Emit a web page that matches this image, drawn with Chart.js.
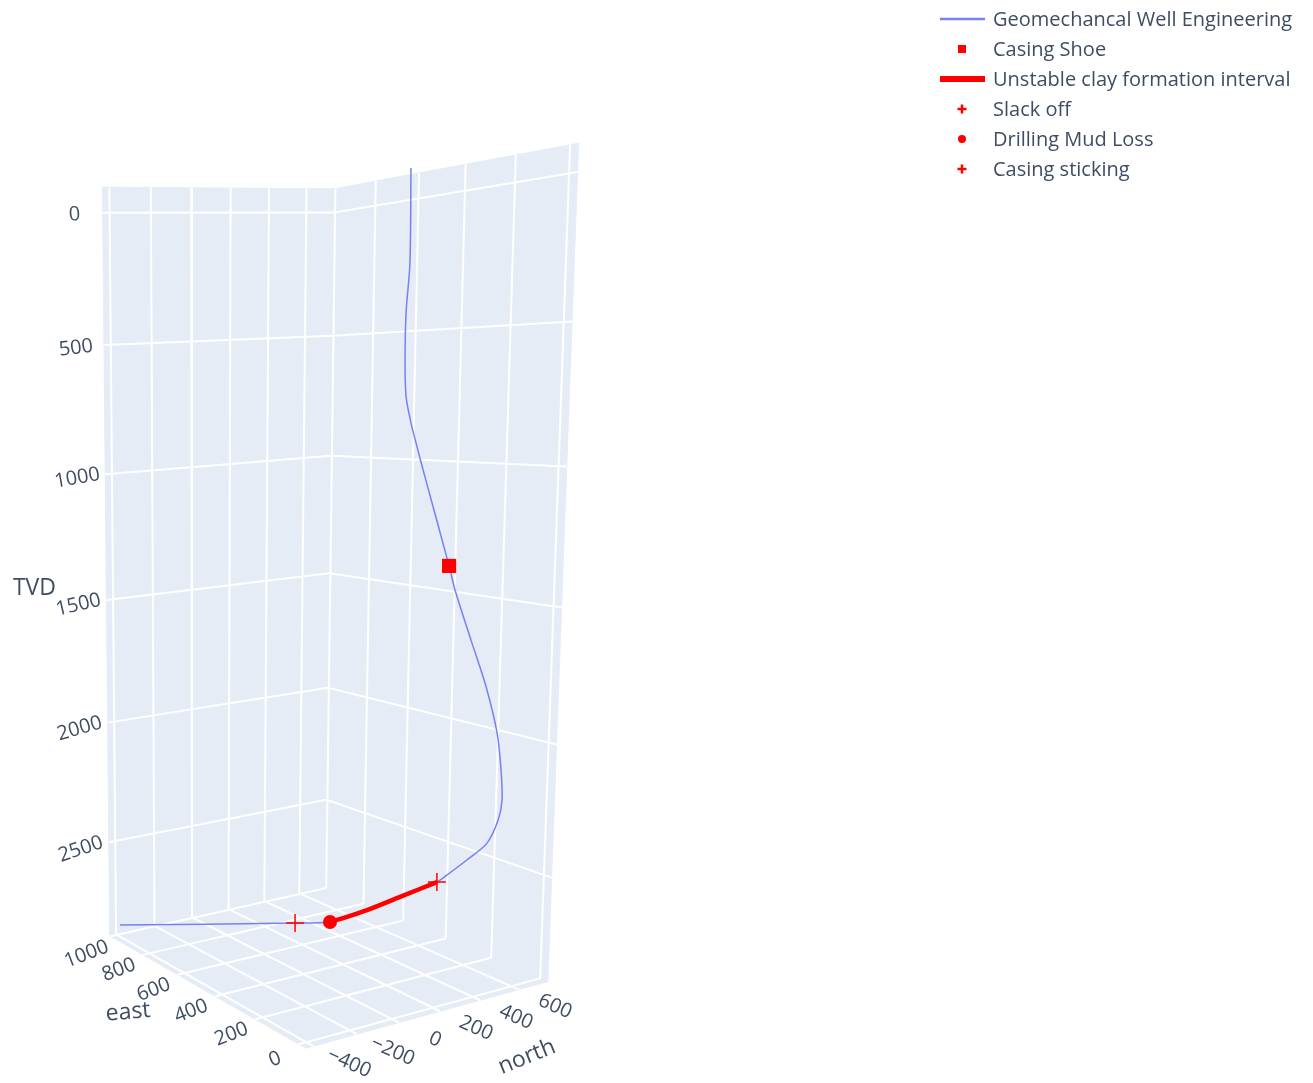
<!DOCTYPE html>
<html><head><meta charset="utf-8">
<script src="https://cdn.jsdelivr.net/npm/chart.js@4.4.1/dist/chart.umd.min.js"></script>
<style>html,body{margin:0;padding:0;background:#fff;}#wrap{width:1313px;height:1083px;position:relative;}</style>
</head><body><div id="wrap"><canvas id="c"></canvas></div>
<script>
// ---- axis ranges and ticks ----
const northRange = [-433, 752];
const eastRange = [-30, 1005];
const tvdRange = [-95, 2900];
const northTicks = [-400, -200, 0, 200, 400, 600];
const eastTicks = [0, 200, 400, 600, 800, 1000];
const tvdTicks = [0, 500, 1000, 1500, 2000, 2500];

// ---- well trajectory (north, east, TVD) ----
const wellNorth = [367, 369, 362, 362, 366, 379, 395, 417, 481, 497, 539, 579, 609, 621, 626, 618, 592, 544, 495, 470, 377, 291, 228, 194, 99, -402];
const wellEast  = [307, 305, 311, 311, 307, 295, 281, 263, 207, 193, 156, 121, 95, 84, 80, 87, 109, 152, 194, 216, 298, 372, 427, 458, 540, 978];
const wellTVD   = [-63, 266, 440, 618, 739, 833, 920, 1030, 1354, 1442, 1626, 1798, 1968, 2106, 2219, 2296, 2387, 2458, 2522, 2553, 2624, 2688, 2729, 2750, 2768, 2849];

// ---- unstable clay formation interval ----
const clayNorth = [470, 377, 291, 228, 194];
const clayEast  = [216, 298, 372, 427, 458];
const clayTVD   = [2553, 2624, 2688, 2729, 2750];

// ---- events [north, east, TVD] ----
const casingShoe = [481, 207, 1354];
const slackOff = [470, 216, 2553];
const mudLoss = [194, 458, 2750];
const casingSticking = [99, 540, 2768];

// ---- camera: box reference points (north, east, TVD) -> screen position ----
const calib = [
  [-433,1005,-95,103,187],[752,1005,-95,335,190],[752,-30,-95,578,144],
  [-433,1005,2900,111,936],[752,1005,2900,327,888],[752,-30,2900,547,980],[-433,-30,2900,305,1050],
  [-433,1005,0,104,212],[-433,1005,2500,112,840],[752,1005,2500,328,798],[752,1005,0,335,210],[752,-30,0,578,168],
  [-200,1005,-95,149,187],[0,1005,-95,190,188],[200,1005,-95,229,188],[400,1005,-95,268,189],[600,1005,-95,305,189],
  [752,800,-95,377,182],[752,400,-95,467,166],[752,200,-95,517,156],[752,0,-95,570,146],
  [-200,1005,2900,155,926],[0,1005,2900,190,918],[200,1005,2900,227,910],[400,1005,2900,263,902],[600,1005,2900,298,894]
];
function norm(n,e,t){return [(n-northRange[0])/(northRange[1]-northRange[0]),(e-eastRange[0])/(eastRange[1]-eastRange[0]),(t-tvdRange[0])/(tvdRange[1]-tvdRange[0])];}
function solveLin(M,n){for(let c=0;c<n;c++){let p=c;for(let r=c+1;r<n;r++)if(Math.abs(M[r][c])>Math.abs(M[p][c]))p=r;const tmp=M[c];M[c]=M[p];M[p]=tmp;for(let r=0;r<n;r++){if(r===c)continue;const f=M[r][c]/M[c][c];for(let k=c;k<=n;k++)M[r][k]-=f*M[c][k];}}return M.map((row,i)=>row[n]/row[i]);}
const P=(function(){const N=11;const M=Array.from({length:N},()=>new Array(N+1).fill(0));
  calib.forEach(c=>{const [X,Y,Z]=norm(c[0],c[1],c[2]);const u=c[3]/1000,v=c[4]/1000;
    const rows=[[X,Y,Z,1,0,0,0,0,-u*X,-u*Y,-u*Z,u],[0,0,0,0,X,Y,Z,1,-v*X,-v*Y,-v*Z,v]];
    rows.forEach(r=>{for(let i=0;i<N;i++){for(let j=0;j<N;j++)M[i][j]+=r[i]*r[j];M[i][N]+=r[i]*r[N];}});});
  return solveLin(M,N);})();
function proj(n,e,t){const [X,Y,Z]=norm(n,e,t);const w=P[8]*X+P[9]*Y+P[10]*Z+1;
  return {x:1000*(P[0]*X+P[1]*Y+P[2]*Z+P[3])/w,y:1000*(P[4]*X+P[5]*Y+P[6]*Z+P[7])/w};}

const RED='#ff0000';
const [n0,n1]=northRange,[e0,e1]=eastRange,[t0,t1]=tvdRange;
const pt=(n,e,t)=>proj(n,e,t);
const datasets=[];
datasets.push({label:'Geomechancal Well Engineering',data:wellNorth.map((n,i)=>pt(n,wellEast[i],wellTVD[i])),showLine:true,borderColor:'#7880f2',borderWidth:1.5,pointRadius:0,tension:0.3,order:10,lg:{type:'line',w:2.5}});
datasets.push({label:'Casing Shoe',data:[pt(...casingShoe)],pointStyle:'rect',pointRadius:10,backgroundColor:RED,borderColor:RED,borderWidth:0,order:1,lg:{type:'rect'}});
datasets.push({label:'Unstable clay formation interval',data:clayNorth.map((n,i)=>pt(n,clayEast[i],clayTVD[i])),showLine:true,borderColor:RED,borderWidth:4.5,pointRadius:0,tension:0.3,order:5,lg:{type:'line',w:6}});
datasets.push({label:'Slack off',data:[pt(...slackOff)],pointStyle:'cross',pointRadius:9,borderColor:RED,borderWidth:1.5,order:1,lg:{type:'cross'}});
datasets.push({label:'Drilling Mud Loss',data:[pt(...mudLoss)],pointStyle:'circle',pointRadius:7,backgroundColor:RED,borderColor:RED,borderWidth:0,order:1,lg:{type:'circle'}});
datasets.push({label:'Casing sticking',data:[pt(...casingSticking)],pointStyle:'cross',pointRadius:9,borderColor:RED,borderWidth:1.5,order:1,lg:{type:'cross'}});
function poly(pts){const d=pts.map(p=>pt(p[0],p[1],p[2]));d.push(d[0]);return {data:d,showLine:true,fill:'shape',backgroundColor:'#E5ECF6',borderColor:'#E5ECF6',borderWidth:1,pointRadius:0,order:100};}
datasets.push(poly([[n0,e0,t1],[n1,e0,t1],[n1,e1,t1],[n0,e1,t1]]));
datasets.push(poly([[n0,e1,t0],[n1,e1,t0],[n1,e1,t1],[n0,e1,t1]]));
datasets.push(poly([[n1,e1,t0],[n1,e0,t0],[n1,e0,t1],[n1,e1,t1]]));
function gl(a,b){return {data:[pt(...a),pt(...b)],showLine:true,borderColor:'#ffffff',borderWidth:2,pointRadius:0,order:90};}
northTicks.forEach(n=>{datasets.push(gl([n,e1,t0],[n,e1,t1]));datasets.push(gl([n,e0,t1],[n,e1,t1]));});
eastTicks.forEach(e=>{datasets.push(gl([n1,e,t0],[n1,e,t1]));datasets.push(gl([n0,e,t1],[n1,e,t1]));});
tvdTicks.forEach(t=>{datasets.push(gl([n0,e1,t],[n1,e1,t]));datasets.push(gl([n1,e1,t],[n1,e0,t]));});

const FONT='"Open Sans", "DejaVu Sans", sans-serif';
const TXT='#3f4d63';
function txt(ctx,s,x,y,rot,size){ctx.save();ctx.translate(x,y);ctx.rotate(rot*Math.PI/180);ctx.font=size+'px '+FONT;ctx.fillStyle=TXT;ctx.textAlign='center';ctx.textBaseline='middle';ctx.fillText(s,0,0);ctx.restore();}
const axisText={id:'axisText',afterDatasetsDraw(chart){const ctx=chart.ctx,xs=chart.scales.x,ys=chart.scales.y;
  const px=p=>[xs.getPixelForValue(p.x),ys.getPixelForValue(p.y)];
  tvdTicks.forEach((t,i)=>{const [x,y]=px(proj(n0,e1,t));txt(ctx,String(t),x-28,y+2+2*t/1000,-4-3*i,20);});
  eastTicks.forEach(e=>{const [x,y]=px(proj(n0,e,t1));txt(ctx,String(e),x-24,y+15+(e===1000?3:0),-21,20);});
  northTicks.forEach(n=>{const [x,y]=px(proj(n,e0,t1));txt(ctx,String(n).replace('-','\u2212'),x+36,y+17,24,20);});
  {const [x,y]=px(proj(n0,e1,1500));txt(ctx,'TVD',x-72,y-12,0,23);}
  {const [x,y]=px(proj(n0,500,t1));txt(ctx,'east',x-68,y+27,-5,23);}
  {const [x,y]=px(proj(150,e0,t1));txt(ctx,'north',x+97,y+43,-22,23);}
}};
const legend3d={id:'legend3d',afterDraw(chart){const ctx=chart.ctx;ctx.save();
  chart.data.datasets.filter(d=>d.lg).forEach((d,i)=>{const y=19+30*i,cx=962;const g=d.lg;
    ctx.strokeStyle=d.borderColor;ctx.fillStyle=d.backgroundColor||d.borderColor;
    if(g.type==='line'){ctx.lineWidth=g.w;ctx.beginPath();ctx.moveTo(940,y);ctx.lineTo(985,y);ctx.stroke();}
    else if(g.type==='rect'){ctx.fillRect(cx-4,y-4,8,8);}
    else if(g.type==='circle'){ctx.beginPath();ctx.arc(cx,y,4,0,Math.PI*2);ctx.fill();}
    else if(g.type==='cross'){ctx.lineWidth=2.5;ctx.beginPath();ctx.moveTo(cx-4.5,y);ctx.lineTo(cx+4.5,y);ctx.moveTo(cx,y-4.5);ctx.lineTo(cx,y+4.5);ctx.stroke();}
    ctx.font='20px '+FONT;ctx.fillStyle=TXT;ctx.textAlign='left';ctx.textBaseline='middle';ctx.fillText(d.label,993,y+1);});
  ctx.restore();}};

new Chart(document.getElementById('c'),{type:'scatter',data:{datasets},options:{responsive:true,maintainAspectRatio:false,animation:false,events:[],layout:{padding:0,autoPadding:false},
  plugins:{legend:{display:false},tooltip:{enabled:false}},
  scales:{x:{type:'linear',min:0,max:1313,display:false},y:{type:'linear',min:0,max:1083,reverse:true,display:false}}},plugins:[axisText,legend3d]});
</script></body></html>
